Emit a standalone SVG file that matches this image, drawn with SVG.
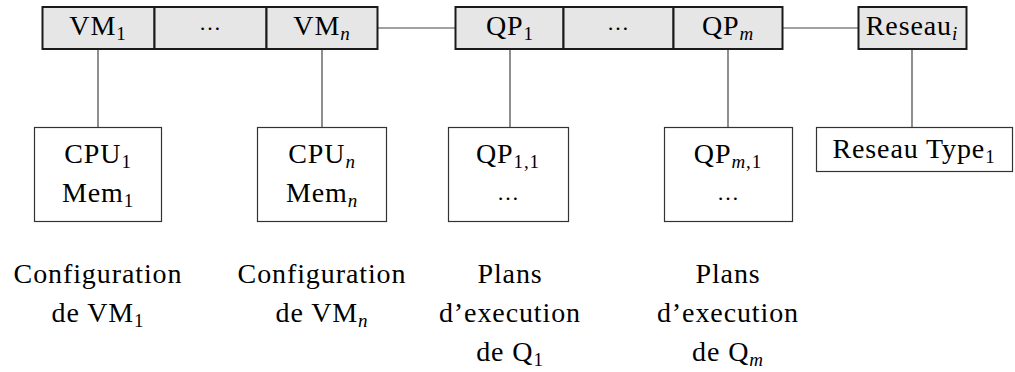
<svg xmlns="http://www.w3.org/2000/svg" width="1015" height="372" viewBox="0 0 1015 372">
<style>
text{font-family:"Liberation Serif","Times New Roman",serif;font-size:28px;fill:#000;text-anchor:middle;letter-spacing:0.9px}
.sub{font-size:19px}
.it{font-style:italic}
.dots{font-size:22px;letter-spacing:0}
.top{fill:#e6e6e6;stroke:#1a1a1a;stroke-width:2}
.box{fill:#fff;stroke:#333;stroke-width:1.2}
.conn line{stroke:#444;stroke-width:1.2}
</style>
<rect width="1015" height="372" fill="#fff"/>
<g class="conn" id="connectors">
<line x1="378" y1="28" x2="455" y2="28" stroke="#111"/>
<line x1="783" y1="28" x2="858" y2="28" stroke="#111"/>
<line x1="98" y1="49" x2="98" y2="127"/>
<line x1="322" y1="49" x2="322" y2="127"/>
<line x1="510" y1="49" x2="510" y2="127"/>
<line x1="728" y1="49" x2="728" y2="127"/>
<line x1="912" y1="49" x2="912" y2="127"/>
</g>
<g id="vm-array">
<rect class="top" x="42.5" y="7" width="112" height="42"/>
<rect class="top" x="154.5" y="7" width="112" height="42"/>
<rect class="top" x="266.5" y="7" width="111" height="42"/>
<text x="98" y="35">VM<tspan class="sub" dy="5">1</tspan></text>
<text class="dots" x="210" y="30">…</text>
<text x="322" y="35">VM<tspan class="sub it" dy="5">n</tspan></text>
</g>
<g id="qp-array">
<rect class="top" x="455.5" y="7" width="108" height="42"/>
<rect class="top" x="563.5" y="7" width="110" height="42"/>
<rect class="top" x="673.5" y="7" width="109" height="42"/>
<text x="510" y="35">QP<tspan class="sub" dy="5">1</tspan></text>
<text class="dots" x="618" y="30">…</text>
<text x="728" y="35">QP<tspan class="sub it" dy="5">m</tspan></text>
</g>
<g id="reseau">
<rect class="top" x="858.5" y="7" width="108" height="42"/>
<text x="912" y="35">Reseau<tspan class="sub it" dy="5">i</tspan></text>
</g>
<g id="cpu1">
<rect class="box" x="34.5" y="127.5" width="127" height="94"/>
<text x="98" y="163">CPU<tspan class="sub" dy="5">1</tspan></text>
<text x="98" y="202">Mem<tspan class="sub" dy="5">1</tspan></text>
</g>
<g id="cpun">
<rect class="box" x="257.5" y="127.5" width="129" height="94"/>
<text x="322" y="163">CPU<tspan class="sub it" dy="5">n</tspan></text>
<text x="322" y="202">Mem<tspan class="sub it" dy="5">n</tspan></text>
</g>
<g id="qp11">
<rect class="box" x="448.5" y="127.5" width="120" height="94"/>
<text x="508" y="163">QP<tspan class="sub" dy="5">1,1</tspan></text>
<text class="dots" x="508" y="200">…</text>
</g>
<g id="qpm1">
<rect class="box" x="664.5" y="127.5" width="128" height="94"/>
<text x="728" y="163">QP<tspan class="sub it" dy="5">m</tspan><tspan class="sub">,1</tspan></text>
<text class="dots" x="728" y="200">…</text>
</g>
<g id="reseau-type">
<rect class="box" x="816.5" y="127.5" width="196" height="44"/>
<text x="914" y="158">Reseau Type<tspan class="sub" dy="5">1</tspan></text>
</g>
<g id="labels">
<text x="98" y="283">Configuration</text>
<text x="98" y="322">de VM<tspan class="sub" dy="5">1</tspan></text>
<text x="322" y="283">Configuration</text>
<text x="322" y="322">de VM<tspan class="sub it" dy="5">n</tspan></text>
<text x="510" y="283">Plans</text>
<text x="510" y="322">d’execution</text>
<text x="510" y="361">de Q<tspan class="sub" dy="5">1</tspan></text>
<text x="728" y="283">Plans</text>
<text x="728" y="322">d’execution</text>
<text x="728" y="361">de Q<tspan class="sub it" dy="5">m</tspan></text>
</g>
</svg>
